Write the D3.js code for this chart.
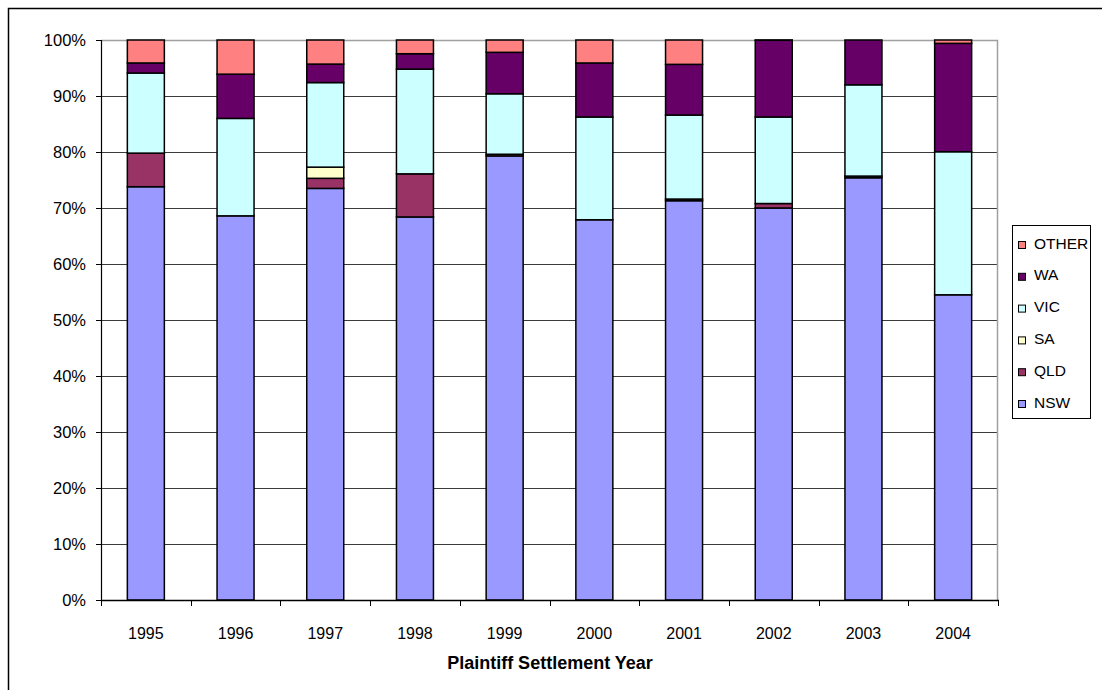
<!DOCTYPE html>
<html>
<head>
<meta charset="utf-8">
<script src="https://cdn.jsdelivr.net/npm/d3@7"></script>
<style>
  html, body { margin: 0; padding: 0; background: #fff; }
  svg { display: block; font-family: Arial, "Liberation Sans", sans-serif; }
</style>
</head>
<body>
<svg id="chart" width="1102" height="690"></svg>
<script>
// Share of plaintiff settlements by state, per settlement year (percent)
const years = ["1995", "1996", "1997", "1998", "1999", "2000", "2001", "2002", "2003", "2004"];
const states = ["NSW", "QLD", "SA", "VIC", "WA", "OTHER"];
const NSW   = [73.8, 68.6, 73.5, 68.4, 79.3, 67.9, 71.3, 70.0, 75.4, 54.5];
const QLD   = [6.0,  0,    1.8,  7.7,  0.3,  0,    0.3,  0.8,  0.3,  0];
const SA    = [0,    0,    2.0,  0,    0,    0,    0,    0,    0,    0];
const VIC   = [14.3, 17.4, 15.1, 18.7, 10.8, 18.35, 15.0, 15.45, 16.3, 25.55];
const WA    = [1.8,  7.9,  3.3,  2.75, 7.4,  9.65, 9.05, 13.7, 8.0,  19.35];
const OTHER = [4.1,  6.1,  4.3,  2.45, 2.2,  4.1,  4.35, 0.05, 0,    0.6];
const yTicks = [0, 10, 20, 30, 40, 50, 60, 70, 80, 90, 100];
const colors = ["#9999FF", "#993366", "#FFFFCC", "#CCFFFF", "#660066", "#FF8080"];
const xTitle = "Plaintiff Settlement Year";

const seriesValues = { NSW, QLD, SA, VIC, WA, OTHER };
const rows = years.map((y, i) => {
  const r = { year: y };
  states.forEach(s => { r[s] = seriesValues[s][i]; });
  return r;
});

const svg = d3.select("#chart");
const plot = { left: 101, right: 998, top: 40, bottom: 600 };

const x = d3.scaleBand().domain(years)
  .range([plot.left, plot.right])
  .paddingInner(0.5875).paddingOuter(0.29375);
const y = d3.scaleLinear().domain([0, 100]).range([plot.bottom, plot.top]);
const color = d3.scaleOrdinal().domain(states).range(colors);

// outer chart frame
svg.append("rect")
  .attr("x", 8.5).attr("y", 8.5).attr("width", 1120).attr("height", 720)
  .attr("fill", "#fff").attr("stroke", "#000").attr("stroke-width", 1.5);

// horizontal gridlines
svg.append("g").selectAll("line")
  .data(yTicks.filter(t => t > 0 && t < 100))
  .join("line")
  .attr("x1", plot.left).attr("x2", plot.right)
  .attr("y1", d => Math.round(y(d)) + 0.5).attr("y2", d => Math.round(y(d)) + 0.5)
  .attr("stroke", "#3a3a3a").attr("stroke-width", 1);

// plot area top/right border
svg.append("path")
  .attr("d", `M${plot.left},${plot.top + 0.5}H${plot.right - 0.5}V${plot.bottom}`)
  .attr("fill", "none").attr("stroke", "#a0a0a0").attr("stroke-width", 1.5);

// stacked bars
const stack = d3.stack().keys(states);
const layers = stack(rows);
svg.append("g").selectAll("g")
  .data(layers)
  .join("g")
  .attr("fill", d => color(d.key))
  .selectAll("rect")
  .data(d => d.filter(p => p[1] - p[0] > 0))
  .join("rect")
  .attr("x", d => x(d.data.year))
  .attr("width", x.bandwidth())
  .attr("y", d => y(d[1]))
  .attr("height", d => y(d[0]) - y(d[1]))
  .attr("stroke", "#000").attr("stroke-width", 1.5);

// y axis
const yAxis = d3.axisLeft(y).tickValues(yTicks).tickFormat(d => d + "%")
  .tickSize(5).tickPadding(10);
const gy = svg.append("g").attr("transform", `translate(${plot.left},0)`).call(yAxis);
gy.select(".domain").attr("stroke", "#000").attr("stroke-width", 1.2);
gy.selectAll(".tick line").attr("stroke", "#000");
gy.selectAll(".tick text").attr("font-size", 16.5).attr("fill", "#000")
  .attr("font-family", "Arial, 'Liberation Sans', sans-serif");

// x axis with ticks at category boundaries
svg.append("line")
  .attr("x1", plot.left).attr("x2", plot.right + 1)
  .attr("y1", plot.bottom + 0.5).attr("y2", plot.bottom + 0.5)
  .attr("stroke", "#000").attr("stroke-width", 1.5);
const bounds = years.map(d => x(d) - x.step() * x.paddingOuter()).concat([plot.right]);
svg.append("g").selectAll("line")
  .data(bounds)
  .join("line")
  .attr("x1", d => Math.round(d) + 0.5).attr("x2", d => Math.round(d) + 0.5)
  .attr("y1", plot.bottom).attr("y2", plot.bottom + 6)
  .attr("stroke", "#000");
svg.append("g").selectAll("text")
  .data(years)
  .join("text")
  .attr("x", d => x(d) + x.bandwidth() / 2)
  .attr("y", 639)
  .attr("text-anchor", "middle")
  .attr("font-size", 16)
  .text(d => d);

svg.append("text")
  .attr("x", 550).attr("y", 669)
  .attr("text-anchor", "middle")
  .attr("font-size", 18).attr("font-weight", "bold")
  .text(xTitle);

// legend (top entry is the top of the stack)
const legend = svg.append("g");
legend.append("rect")
  .attr("x", 1012.5).attr("y", 225.5).attr("width", 78).attr("height", 193)
  .attr("fill", "#fff").attr("stroke", "#000").attr("stroke-width", 1);
const items = legend.selectAll("g.item")
  .data(states.slice().reverse())
  .join("g").attr("class", "item")
  .attr("transform", (d, i) => `translate(0,${243 + i * 31.8})`);
items.append("rect")
  .attr("x", 1018.5).attr("y", -1.5).attr("width", 7).attr("height", 7)
  .attr("fill", d => color(d)).attr("stroke", "#000").attr("stroke-width", 1);
items.append("text")
  .attr("x", 1034).attr("y", 5.5)
  .attr("font-size", 15.5)
  .text(d => d);
</script>
</body>
</html>
